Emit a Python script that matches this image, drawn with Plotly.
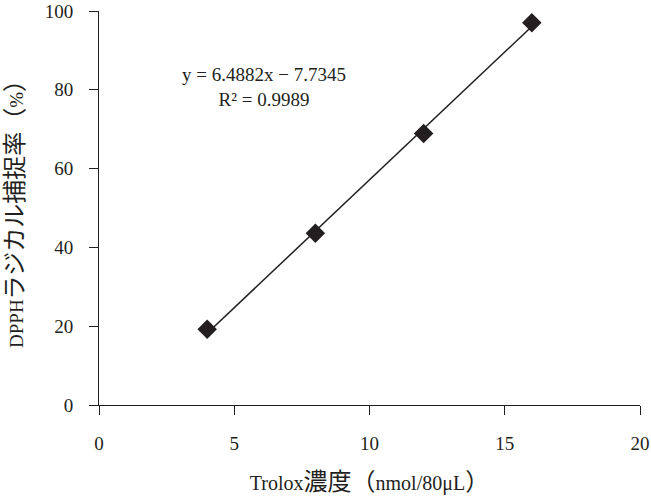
import plotly.graph_objects as go

# Data
x_vals = [4, 8, 12, 16]
y_vals = [19.2, 43.6, 68.9, 97.0]
slope = 6.4882
intercept = -7.7345
r2 = 0.9989
x_ticks = [0, 5, 10, 15, 20]
y_ticks = [0, 20, 40, 60, 80, 100]
x_title = "Trolox<span style='font-size:24px'>濃度（</span>nmol/80μL<span style='font-size:24px'>）</span>"
y_title = "DPPH<span style='font-size:24px'>ラジカル捕捉率（</span>%<span style='font-size:24px'>）</span>"

FONT = "Liberation Serif, Times New Roman, Noto Sans CJK JP, serif"
INK = "#231f20"
FS = 19

fit_x = [min(x_vals), max(x_vals)]
fit_y = [slope * v + intercept for v in fit_x]

fig = go.Figure()
fig.add_trace(go.Scatter(x=fit_x, y=fit_y, mode="lines",
                         line=dict(color=INK, width=1.5), showlegend=False, hoverinfo="skip"))
fig.add_trace(go.Scatter(x=x_vals, y=y_vals, mode="markers",
                         marker=dict(symbol="diamond", size=15, color=INK, line=dict(width=0)),
                         showlegend=False))

fig.add_annotation(x=6.1, y=80.8, xref="x", yref="y",
                   text=f"y = {slope}x − {abs(intercept)}<br>R² = {r2}",
                   showarrow=False, align="center",
                   font=dict(family=FONT, size=FS, color=INK))

axis_common = dict(showline=True, linecolor=INK, linewidth=1, ticks="outside", ticklen=9,
                   tickcolor=INK, tickwidth=1, showgrid=False, zeroline=False, automargin=False,
                   tickfont=dict(family=FONT, size=FS, color=INK))

fig.update_xaxes(range=[0, 20], tickvals=x_ticks, ticklabelstandoff=12,
                 title=dict(text=x_title, font=dict(family=FONT, size=20, color=INK),
                            standoff=23),
                 **axis_common)
fig.update_yaxes(range=[0, 100], tickvals=y_ticks, ticklabelstandoff=12,
                 title=dict(text=y_title, font=dict(family=FONT, size=19, color=INK),
                            standoff=16),
                 **axis_common)

fig.update_layout(width=651, height=497, margin=dict(l=99, r=11, t=11, b=92),
                  plot_bgcolor="white", paper_bgcolor="white",
                  font=dict(family=FONT, color=INK))

fig.write_html("out.html", config={"displayModeBar": False},
               post_script="document.body.style.margin='0';window.dispatchEvent(new Event('resize'));")
